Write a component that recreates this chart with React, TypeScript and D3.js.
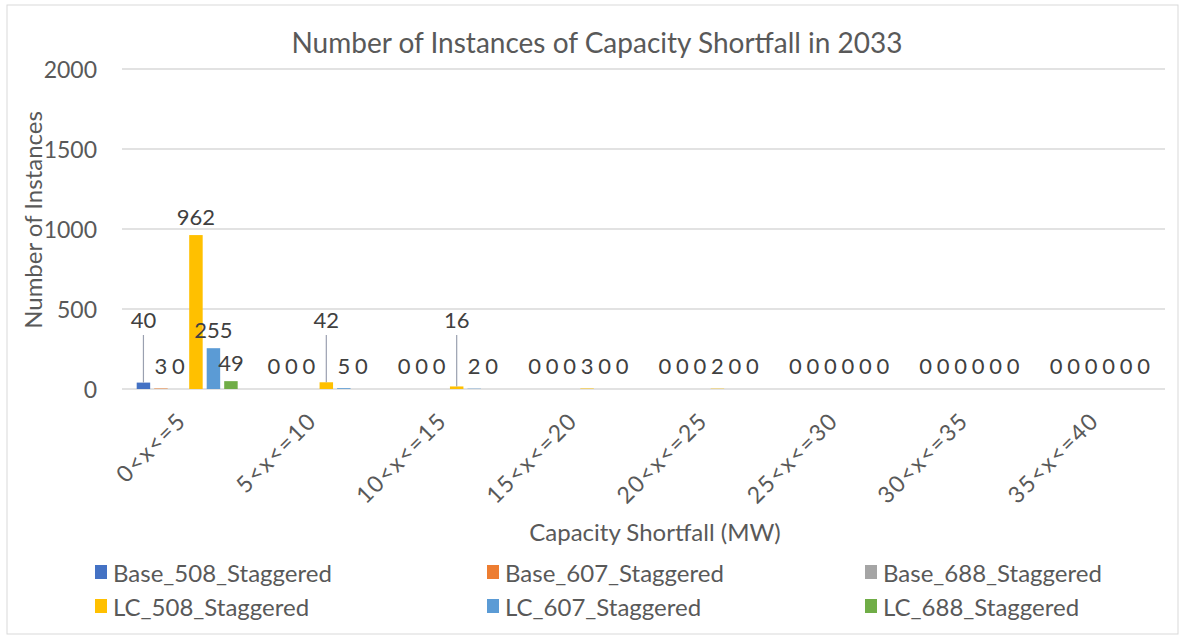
import React from "react";
import * as d3 from "d3";

const categories = ["0<x<=5", "5<x<=10", "10<x<=15", "15<x<=20", "20<x<=25", "25<x<=30", "30<x<=35", "35<x<=40"];
const seriesNames = ["Base_508_Staggered", "Base_607_Staggered", "Base_688_Staggered", "LC_508_Staggered", "LC_607_Staggered", "LC_688_Staggered"];
const base508 = [40, 0, 0, 0, 0, 0, 0, 0];
const base607 = [3, 0, 0, 0, 0, 0, 0, 0];
const base688 = [0, 0, 0, 0, 0, 0, 0, 0];
const lc508 = [962, 42, 16, 3, 2, 0, 0, 0];
const lc607 = [255, 5, 2, 0, 0, 0, 0, 0];
const lc688 = [49, 0, 0, 0, 0, 0, 0, 0];
const yTicks = [0, 500, 1000, 1500, 2000];
// data labels that Excel moved up and connected with a leader line: [category index, series index]
const calloutLabels = [[0, 0], [1, 3], [2, 3]];

const seriesValues = [base508, base607, base688, lc508, lc607, lc688];
const colors = ["#4472C4", "#ED7D31", "#A5A5A5", "#FFC000", "#5B9BD5", "#70AD47"];

const W = 1186, H = 637;
const plot = { left: 122, right: 1165, top: 69, bottom: 389 };
const FONT = "Lato, 'Open Sans', sans-serif";
const TEXT = "#595959";

export default function App() {
  const x0 = d3.scaleBand<string>().domain(categories).range([plot.left, plot.right]).padding(0);
  const x1 = d3.scaleBand<string>().domain(seriesNames).range([0, x0.bandwidth()]).paddingInner(0.23).paddingOuter(0.84);
  const y = d3.scaleLinear().domain([0, 2000]).range([plot.bottom, plot.top]);

  const isCallout = (c: number, s: number) => calloutLabels.some(([a, b]) => a === c && b === s);

  const legendCols = [95, 487, 865];
  const legendRows = [572, 606];

  return (
    <svg width={W} height={H} style={{ position: "absolute", left: 0, top: 0, display: "block", background: "#fff" }} fontFamily={FONT}>
      <rect x={7} y={5} width={1171} height={629} fill="#fff" stroke="#d9d9d9" strokeWidth={1} />
      <text x={597} y={42} textAnchor="middle" dominantBaseline="central" fontSize={28} fill={TEXT}>
        Number of Instances of Capacity Shortfall in 2033
      </text>

      {yTicks.map((t) => (
        <g key={t}>
          <line x1={plot.left} x2={plot.right} y1={y(t)} y2={y(t)} stroke="#d9d9d9" strokeWidth={1.3} />
          <text x={97} y={y(t)} textAnchor="end" dominantBaseline="central" fontSize={23} fill={TEXT}>
            {t}
          </text>
        </g>
      ))}

      {categories.map((c, ci) =>
        seriesNames.map((s, si) => {
          const v = seriesValues[si][ci];
          const bx = (x0(c) as number) + (x1(s) as number);
          const bw = x1.bandwidth();
          return (
            <rect key={c + s} x={bx} y={y(v)} width={bw} height={y(0) - y(v)} fill={colors[si]} />
          );
        })
      )}

      {categories.map((c, ci) =>
        seriesNames.map((s, si) => {
          const v = seriesValues[si][ci];
          const cx = (x0(c) as number) + (x1(s) as number) + x1.bandwidth() / 2;
          if (isCallout(ci, si)) {
            const ly = y(0) - 70;
            return (
              <g key={"l" + c + s}>
                <line x1={cx} x2={cx} y1={ly + 16} y2={y(v)} stroke="#9aa0b0" strokeWidth={1.2} />
                <text x={cx} y={ly} textAnchor="middle" dominantBaseline="central" fontSize={22} fill="#404040">
                  {v}
                </text>
              </g>
            );
          }
          const ly = Math.min(y(v) - 19, y(0) - 24);
          return (
            <text key={"l" + c + s} x={cx} y={ly} textAnchor="middle" dominantBaseline="central" fontSize={22} fill="#404040">
              {v}
            </text>
          );
        })
      )}

      {categories.map((c) => {
        const cx = (x0(c) as number) + x0.bandwidth() / 2;
        return (
          <text key={"c" + c} transform={`translate(${cx - 6},${plot.bottom + 27}) rotate(-45)`} textAnchor="end" dominantBaseline="central" fontSize={23} letterSpacing={1.5} fill={TEXT}>
            {c}
          </text>
        );
      })}

      <text transform={`translate(32,220) rotate(-90)`} textAnchor="middle" dominantBaseline="central" fontSize={24} fill={TEXT}>
        Number of Instances
      </text>
      <text x={655} y={531} textAnchor="middle" dominantBaseline="central" fontSize={24} fill={TEXT}>
        Capacity Shortfall (MW)
      </text>

      {seriesNames.map((s, si) => {
        const lx = legendCols[si % 3];
        const ly = legendRows[Math.floor(si / 3)];
        return (
          <g key={"lg" + s}>
            <rect x={lx} y={ly - 7} width={12} height={14} fill={colors[si]} />
            <text x={lx + 18} y={ly} dominantBaseline="central" fontSize={24} fill={TEXT}>
              {s}
            </text>
          </g>
        );
      })}
    </svg>
  );
}
